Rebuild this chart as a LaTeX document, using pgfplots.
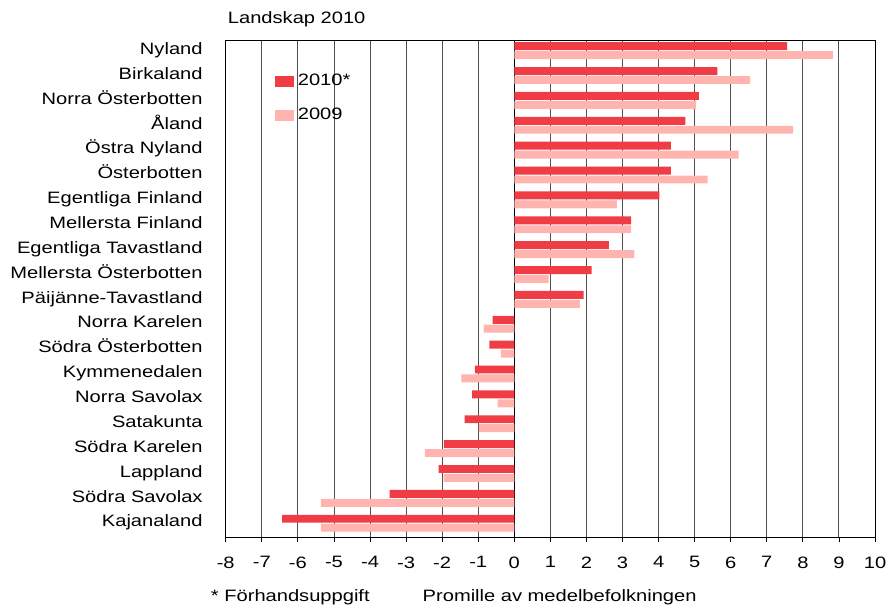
\documentclass[border=0pt]{standalone}
\usepackage{pgfplots}
\pgfplotsset{compat=1.18}
\usepackage{fontspec}
\setmainfont[FakeStretch=1.22]{Liberation Sans}
\definecolor{c2010}{RGB}{240,60,68}
\definecolor{c2009}{RGB}{255,180,175}
\definecolor{gridc}{RGB}{80,80,80}
\pgfplotsset{sqlegend/.style={legend image code/.code={\fill[##1] (0pt,-5.5pt) rectangle (19pt,5.5pt);}}}
\begin{document}
\fontsize{16.5}{19}\selectfont
\begin{tikzpicture}
\begin{axis}[
  name=ax,
  scale only axis,
  width=650pt, height=498pt,
  xbar,
  xmin=-8, xmax=10,
  ymin=-0.5, ymax=19.5,
  y dir=reverse,
  xtick={-8,...,10},
  ytick={0,...,19},
  yticklabels={Nyland,Birkaland,Norra Österbotten\hspace{2pt},Åland,Östra Nyland,Österbotten,Egentliga Finland,Mellersta Finland,Egentliga Tavastland\hspace{5pt},Mellersta Österbotten,Päijänne-Tavastland\hspace{6pt},Norra Karelen,Södra Österbotten,Kymmenedalen,Norra Savolax,Satakunta,Södra Karelen,Lappland,Södra Savolax\hspace{6pt},Kajanaland},
  /pgf/number format/assume math mode=true,
  ytick style={draw=none},
  xtick align=outside,
  major tick length=5pt,
  xtick pos=bottom,
  xtick style={black, line width=0.8pt},
  yticklabel style={inner xsep=0pt, inner ysep=0pt, anchor=east, text height=12pt, text depth=4pt, yshift=2pt},
  yticklabel shift=18pt,
  xticklabel style={inner ysep=0pt},
  xticklabel shift=14pt,
  xmajorgrids=true,
  grid style={gridc, line width=0.9pt},
  axis line style={black, line width=0.9pt},
  extra x ticks={0},
  extra x tick labels={},
  extra x tick style={grid style={black, line width=1pt}, major tick length=0pt},
  bar width=0.32,
  legend style={draw=none, fill=none, at={(axis description cs:0,1)}, anchor=north west,
    xshift=49pt, yshift=-34pt, inner sep=0pt, row sep=20pt,
    nodes={inner sep=0pt, anchor=west}},
  legend cell align=left,
]
\addplot[fill=c2010, draw=none, bar shift=-0.25, sqlegend] coordinates {
  (7.56,0) (5.63,1) (5.12,2) (4.74,3) (4.34,4) (4.34,5) (4.02,6) (3.24,7) (2.62,8) (2.14,9)
  (1.92,10) (-0.6,11) (-0.69,12) (-1.09,13) (-1.17,14) (-1.38,15) (-1.95,16) (-2.1,17) (-3.46,18) (-6.44,19)
};
\addlegendentry{\hspace{4pt}2010*}
\addplot[fill=c2009, draw=none, bar shift=0.11, sqlegend] coordinates {
  (8.83,0) (6.54,1) (5.04,2) (7.73,3) (6.22,4) (5.36,5) (2.84,6) (3.24,7) (3.33,8) (0.95,9)
  (1.82,10) (-0.85,11) (-0.37,12) (-1.47,13) (-0.46,14) (-0.98,15) (-2.48,16) (-1.96,17) (-5.36,18) (-5.36,19)
};
\addlegendentry{\hspace{4pt}2009}
\end{axis}
\node[anchor=west, inner sep=0pt] at ([xshift=2pt,yshift=21pt]ax.north west) {Landskap 2010};
\node[anchor=west, inner sep=0pt] at ([xshift=-15pt,yshift=-60pt]ax.south west) {* Förhandsuppgift};
\node[anchor=west, inner sep=0pt] at ([xshift=197pt,yshift=-60pt]ax.south west) {Promille av medelbefolkningen};
\pgfresetboundingbox
\useasboundingbox ([xshift=-226pt,yshift=-70pt]ax.south west) rectangle ([xshift=12pt,yshift=40pt]ax.north east);
\end{tikzpicture}
\end{document}
